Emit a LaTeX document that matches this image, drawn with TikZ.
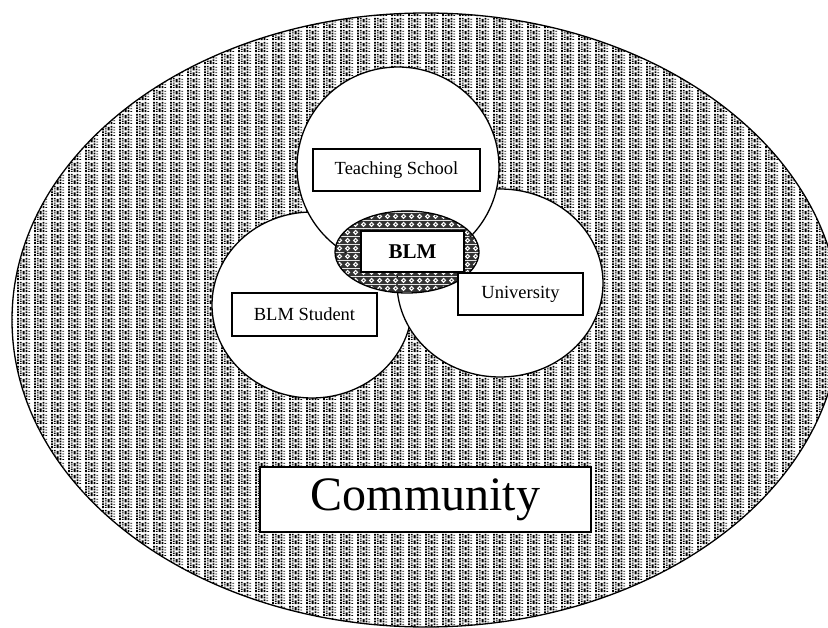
\documentclass[tikz,border=0pt]{standalone}
\usepackage{fontspec}
\setmainfont{Liberation Serif}
\usetikzlibrary{patterns.meta}

% vertical dotted streaks for the outer area
\tikzdeclarepattern{
  name=streaks,
  type=uncolored,
  bounding box={(0pt,0pt) and (17pt,12pt)},
  tile size={(17pt,12pt)},
  code={
    \draw [line width=2pt, dash pattern=on 2pt off 1pt] (1pt,0pt)--(1pt,12pt);
    \draw [line width=2pt, dash pattern=on 1pt off 1pt] (4pt,0pt)--(4pt,12pt);
    \draw [line width=2pt, dash pattern=on 4pt off 2pt] (7pt,0pt)--(7pt,12pt);
    \draw [line width=2pt, dash pattern=on 2pt off 1pt] (10pt,0pt)--(10pt,12pt);
    \draw [line width=2pt, dash pattern=on 1pt off 2pt] (13pt,0pt)--(13pt,12pt);
  }
}

% small white diamonds on dark ground for the middle
\tikzdeclarepattern{
  name=weave,
  type=colored,
  bounding box={(0pt,0pt) and (8pt,8pt)},
  tile size={(8pt,8pt)},
  code={
    \fill [black!80] (0pt,0pt) rectangle (8pt,8pt);
    \fill [white] (4pt,1pt)--(7pt,4pt)--(4pt,7pt)--(1pt,4pt)--cycle;
    \fill [black!80] (3.2pt,3.2pt) rectangle (4.8pt,4.8pt);
  }
}

\begin{document}
\begin{tikzpicture}[x=1pt, y=-1pt, line width=1.3pt,
    label/.style={draw, fill=white, inner sep=0pt, font=\fontsize{18.5}{22}\selectfont}]
                        \useasboundingbox (0,0) rectangle (828,628);
                        \clip (0,0) rectangle (828,628);

                        % outer ring
                        \draw [pattern={streaks}, pattern color=black] (426,320) ellipse [x radius=414pt, y radius=307pt];

                        % the three partners
                        \draw [fill=white] (312,305) ellipse [x radius=100pt, y radius=93pt];
                        \draw [fill=white] (500,283) ellipse [x radius=103pt, y radius=94pt];
                        \draw [fill=white] (398,167) ellipse [x radius=101pt, y radius=100pt];

                        % shared middle
                        \draw [pattern={weave}] (407,252) ellipse [x radius=72pt, y radius=41pt];

                        \node [label, minimum width=167pt, minimum height=42pt] (school) at (396.5,170) {Teaching School};
                        \node [label, minimum width=145pt, minimum height=43pt] (student) at (304.5,314.5) {BLM Student};
                        \node [label, minimum width=125pt, minimum height=42pt] (uni) at (520.5,294) {University};
                        \node [label, minimum width=103pt, minimum height=41pt, font=\fontsize{21}{24}\selectfont\bfseries] (blm) at (412.5,251.5) {BLM};
                        \node [label, minimum width=331pt, minimum height=65pt, font=\fontsize{48}{54}\selectfont] (community) at (425.5,499.5) {Community};
                    \end{tikzpicture}
\end{document}
